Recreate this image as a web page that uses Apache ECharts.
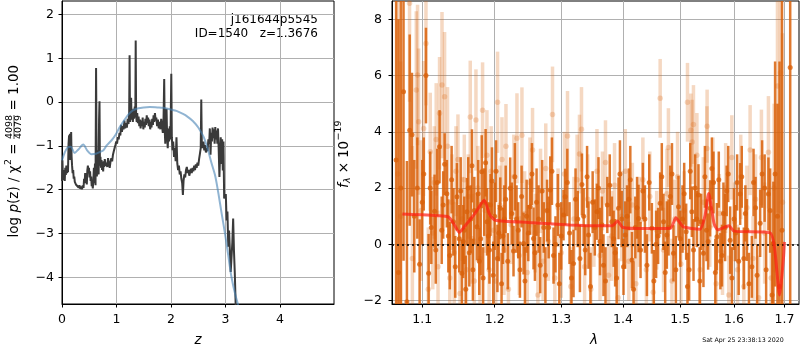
<!DOCTYPE html>
<html>
<head>
<meta charset="utf-8">
<script src="https://cdn.jsdelivr.net/npm/echarts@6/dist/echarts.min.js"></script>
<style>html,body{margin:0;padding:0;background:#fff}#main{width:800px;height:350px}</style>
</head>
<body>
<div id="main"></div>
<script>
// ---- left panel: log p(z) ----
const zTicks = [0, 1, 2, 3, 4];
const lnpTicks = [-4, -3, -2, -1, 0, 1, 2];
const zObs = [0.000,0.008,0.016,0.024,0.032,0.040,0.050,0.060,0.070,0.080,
  0.090,0.100,0.110,0.120,0.130,0.138,0.145,0.152,0.160,0.168,
  0.176,0.185,0.195,0.205,0.215,0.225,0.235,0.245,0.255,0.265,
  0.275,0.290,0.305,0.320,0.335,0.350,0.365,0.380,0.395,0.405,
  0.415,0.425,0.435,0.445,0.455,0.465,0.475,0.485,0.495,0.505,
  0.515,0.525,0.535,0.545,0.555,0.565,0.575,0.585,0.595,0.605,
  0.615,0.625,0.632,0.640,0.648,0.656,0.664,0.672,0.680,0.688,
  0.696,0.705,0.715,0.725,0.735,0.745,0.755,0.765,0.775,0.785,
  0.800,0.815,0.830,0.845,0.860,0.875,0.890,0.905,0.920,0.935,
  0.950,0.965,0.980,0.995,1.010,1.025,1.040,1.055,1.070,1.085,
  1.100,1.115,1.130,1.145,1.160,1.175,1.190,1.205,1.220,1.232,
  1.240,1.248,1.258,1.268,1.276,1.288,1.300,1.312,1.322,1.335,
  1.345,1.352,1.360,1.370,1.380,1.392,1.405,1.418,1.430,1.442,
  1.455,1.468,1.480,1.492,1.505,1.518,1.530,1.542,1.555,1.568,
  1.580,1.592,1.605,1.618,1.630,1.642,1.655,1.668,1.680,1.692,
  1.705,1.718,1.730,1.745,1.760,1.775,1.790,1.805,1.820,1.835,
  1.850,1.862,1.875,1.885,1.895,1.905,1.918,1.928,1.940,1.952,
  1.965,1.978,1.990,2.005,2.015,2.028,2.040,2.055,2.070,2.085,
  2.100,2.115,2.130,2.145,2.160,2.175,2.190,2.205,2.218,2.230,
  2.245,2.260,2.275,2.290,2.305,2.320,2.335,2.350,2.365,2.380,
  2.395,2.410,2.425,2.440,2.455,2.470,2.485,2.500,2.515,2.530,
  2.545,2.555,2.565,2.580,2.595,2.610,2.625,2.640,2.655,2.670,
  2.685,2.700,2.712,2.725,2.738,2.750,2.762,2.775,2.788,2.800,
  2.812,2.825,2.838,2.850,2.862,2.875,2.888,2.900,2.912,2.925,
  2.938,2.950,2.962,2.975,2.990,3.005,3.020,3.035,3.050,3.065,
  3.080,3.095,3.110,3.125,3.140,3.155,3.170,3.190];
const lnpObs = [-1.80,-1.33,-1.70,-1.55,-1.78,-1.62,-1.80,-1.50,-1.66,-1.45,
  -1.62,-1.52,-1.60,-0.95,-0.76,-1.10,-0.72,-1.32,-1.05,-0.68,
  -1.25,-1.45,-1.62,-1.55,-1.75,-1.70,-1.82,-1.78,-1.88,-1.84,
  -1.92,-1.88,-1.95,-1.90,-1.98,-1.93,-1.99,-1.90,-1.96,-1.75,
  -1.85,-1.62,-1.80,-1.70,-1.88,-1.55,-1.45,-1.62,-1.50,-1.72,
  -1.58,-1.80,-1.70,-1.92,-1.85,-1.97,-1.78,-1.50,-1.85,-1.40,
  -1.90,0.78,-0.60,-1.70,-1.20,-1.55,-1.10,-1.65,-0.40,0.02,
  -1.45,-1.25,-1.50,-1.32,-1.55,-1.40,-1.58,-1.35,-1.48,-1.30,
  -1.45,-1.38,-1.48,-1.28,-1.42,-1.50,-1.36,-1.28,-1.35,-1.20,
  -1.12,-1.05,-0.98,-0.90,-0.95,-0.80,-0.85,-0.70,-0.76,-0.52,
  -0.68,-0.55,-0.62,-0.42,-0.60,-0.48,-0.58,-0.38,-0.50,-0.25,
  1.07,-0.45,-0.30,0.10,-0.40,-0.22,-0.45,-0.15,-0.38,-0.10,
  -0.35,1.41,-0.30,-0.45,-0.25,-0.48,-0.33,-0.55,-0.40,-0.60,
  -0.42,-0.55,-0.35,-0.62,-0.45,-0.58,-0.38,-0.52,-0.30,-0.48,
  -0.35,-0.55,-0.40,-0.62,-0.45,-0.58,-0.38,-0.52,-0.30,-0.45,
  -0.25,-0.42,-0.35,-0.55,-0.40,-0.60,-0.45,-0.62,-0.38,-0.55,
  -0.70,-0.45,0.53,-0.65,-0.95,-0.55,-0.15,-0.75,-1.05,-0.60,
  -0.90,-0.55,-0.85,0.65,-0.80,-1.10,-0.90,-1.25,-1.05,-1.35,
  -0.80,-1.40,-1.55,-1.45,-1.65,-1.58,-1.75,-1.85,-2.12,-1.80,
  -1.65,-1.72,-1.55,-1.48,-1.62,-1.55,-1.68,-1.60,-1.52,-1.62,
  -1.50,-1.58,-1.45,-1.55,-1.42,-1.50,-1.38,-1.45,-1.30,-1.18,
  -1.05,0.06,-0.95,-1.05,-0.90,-1.10,-0.98,-1.15,-1.05,-1.12,
  -0.85,-0.95,-0.60,-1.20,-0.70,-0.90,-0.58,-0.82,-0.62,-0.95,
  -0.57,-0.85,-0.65,-0.95,-0.60,-1.10,-1.71,-1.20,-0.80,-1.41,
  -0.85,-1.56,-0.90,-2.20,-2.24,-2.10,-2.70,-2.50,-3.30,-2.93,
  -3.40,-3.88,-3.91,-3.20,-2.66,-3.40,-3.90,-4.80];
const zFit = [0.00,0.05,0.10,0.16,0.23,0.30,0.39,0.46,0.54,0.62,0.69,0.76,0.82,0.91,0.98,1.06,1.15,1.22,1.30,1.40,
  1.50,1.61,1.75,1.86,2.00,2.10,2.22,2.30,2.40,2.50,2.60,2.68,2.74,2.81,2.87,2.93,2.99,3.05,3.11,3.18,3.26];
const lnpFit = [-1.33,-1.15,-1.04,-1.02,-1.16,-1.08,-0.97,-1.10,-1.19,-1.18,-1.14,-1.10,-0.99,-0.87,-0.75,-0.57,-0.40,-0.28,-0.19,-0.14,
  -0.12,-0.11,-0.12,-0.13,-0.17,-0.20,-0.27,-0.33,-0.43,-0.58,-0.80,-1.10,-1.38,-1.68,-2.09,-2.55,-3.00,-3.50,-4.00,-4.40,-4.75];

// ---- right panel: spectrum ----
const lamTicks = [1.1, 1.2, 1.3, 1.4, 1.5, 1.6, 1.7];
const fluxTicks = [-2, 0, 2, 4, 6, 8];
const darkWave = [1.066,1.069,1.072,1.0755,1.0799,1.0835,1.0865,1.0895,1.0935,1.0965,
  1.100,1.102,1.1049,1.1084,1.112,1.1164,1.120,1.1231,1.126,1.130,
  1.133,1.137,1.142,1.1468,1.150,1.1537,1.157,1.1607,1.164,1.1677,
  1.171,1.1747,1.178,1.1815,1.185,1.189,1.1925,1.1961,1.200,1.204,
  1.2081,1.212,1.216,1.2226,1.2275,1.232,1.237,1.2424,1.247,1.2524,
  1.2574,1.262,1.2675,1.273,1.278,1.2829,1.288,1.2947,1.300,1.3035,
  1.3062,1.313,1.3193,1.326,1.3327,1.338,1.3433,1.350,1.3569,1.362,
  1.3677,1.374,1.3816,1.387,1.3926,1.398,1.4038,1.410,1.4153,1.421,
  1.4265,1.434,1.441,1.4496,1.457,1.4641,1.470,1.4759,1.482,1.4877,
  1.4967,1.504,1.5106,1.516,1.5209,1.527,1.5331,1.538,1.5423,1.548,
  1.5547,1.561,1.5674,1.574,1.5798,1.586,1.5926,1.600,1.606,1.6119,
  1.619,1.6249,1.6347,1.642,1.6511,1.660,1.6676,1.6776,1.681,1.6858,
  1.690,1.695,1.7118,
  // second set of bins, in between the first
  1.1105,1.118,1.128,1.135,1.1395,1.1445,1.152,1.1555,1.159,1.1625,
  1.166,1.169,1.1765,1.180,1.1835,1.187,1.191,1.194,1.198,1.202,
  1.206,1.210,1.214,1.219,1.225,1.2295,1.2345,1.2395,1.2445,1.2495,
  1.255,1.2595,1.265,1.2705,1.2755,1.2805,1.2855,1.291,1.297,1.3095,
  1.316,1.3225,1.3295,1.3355,1.341,1.3465,1.3535,1.3595,1.365,1.371,
  1.378,1.3845,1.3895,1.395,1.401,1.407,1.4125,1.418,1.424,1.430,
  1.4375,1.445,1.453,1.4605,1.467,1.473,1.479,1.485,1.492,1.500,
  1.507,1.513,1.518,1.524,1.530,1.5355,1.545,1.551,1.558,1.5645,
  1.571,1.577,1.583,1.589,1.596,1.603,1.609,1.615,1.622,1.629,
  1.638,1.645,1.655,1.663,1.671,1.675];
const darkFlux = [3.0,-1.0,2.0,5.42,-2.04,4.06,3.9,1.0,2.0,-0.71,
  1.5,2.5,6.0,-1.03,0.6,1.18,2.2,3.47,0.5,2.85,
  1.8,-0.4,0.8,1.69,0.2,-1.03,0.5,1.16,-0.3,2.79,
  1.2,0.63,-0.6,2.58,1.5,0.8,-0.2,2.25,1.0,-0.5,
  1.28,0.3,1.6,1.99,-0.24,0.9,-0.9,0.03,1.0,1.34,
  0.21,1.5,-0.74,0.6,1.2,1.93,-0.4,1.4,0.3,1.04,
  1.69,0.4,-0.68,0.9,2.13,-0.2,0.33,1.5,1.16,0.1,
  -0.74,1.4,0.8,-0.3,1.28,0.9,0.33,1.6,-0.56,0.6,
  0.92,1.9,-0.74,0.57,0.0,1.46,0.8,0.33,1.7,-0.32,
  1.34,0.9,0.45,-0.9,1.16,2.0,1.75,0.8,-0.32,0.5,
  1.28,2.2,0.27,-0.6,1.1,1.9,0.15,0.9,2.2,1.79,
  -0.5,0.51,-0.8,1.3,0.75,2.0,1.79,0.03,2.5,1.0,
  -1.5,0.5,6.29,
  2.0,-0.2,1.4,0.3,2.3,-0.8,1.9,0.1,-1.6,2.0,
  0.9,-0.9,1.8,0.2,-1.2,2.9,0.3,1.4,-1.1,2.6,
  0.4,-1.4,0.9,-0.6,1.1,2.4,0.5,1.7,-1.3,0.4,
  2.5,-0.3,0.9,1.9,-1.1,0.6,2.6,0.0,-1.4,2.2,
  -1.2,1.6,-0.5,1.0,2.4,-1.5,0.6,2.0,0.7,-1.3,
  2.1,0.2,-1.2,2.5,-0.8,1.0,2.3,-1.6,1.3,-0.2,
  0.9,2.2,-1.3,0.3,2.4,-1.0,0.6,2.5,-0.9,0.2,
  1.8,-1.5,2.6,-0.2,0.9,-1.3,2.4,0.1,2.7,-1.0,
  2.3,-0.4,0.6,2.5,-1.2,0.4,-0.6,2.4,1.1,-1.4,
  2.2,-1.1,2.5,-0.9,1.2,-1.8];
const darkErr = [9,9,8,6,5,3.4,2.2,2.0,1.8,1.6,
  1.5,1.3,1.7,1.4,1.3,1.3,1.2,1.3,1.2,1.1,
  1.2,1.2,1.2,1.2,1.2,1.2,1.2,1.2,1.2,1.3,
  1.2,1.2,1.2,1.3,1.2,1.2,1.2,1.2,1.2,1.2,
  1.1,1.0,1.2,1.1,0.9,1.2,1.0,1.1,1.3,1.0,
  1.1,1.2,1.0,0.9,1.1,1.2,1.0,1.1,1.2,0.9,
  1.0,1.1,1.2,1.0,1.1,0.9,1.2,1.1,1.0,1.2,
  1.1,1.0,0.9,1.2,1.1,1.0,1.2,1.1,1.0,1.1,
  1.2,1.0,1.1,0.9,1.2,1.1,1.0,1.2,1.1,1.0,
  1.1,1.2,1.0,1.1,0.9,1.2,1.1,1.0,1.2,1.1,
  1.0,1.1,1.2,1.0,1.1,0.9,1.2,1.1,1.0,1.1,
  1.1,1.1,1.1,1.1,1.2,1.2,1.3,2.2,4.0,4.0,
  8,9,10,
  1.3,1.2,1.2,1.3,1.2,1.1,1.2,1.3,1.2,1.1,
  1.2,1.1,1.2,1.3,1.1,1.2,1.2,1.1,1.2,1.1,
  1.0,1.1,1.2,1.0,1.1,1.2,1.0,1.1,1.2,1.0,
  1.1,1.0,1.2,1.1,1.0,1.1,1.2,1.0,1.1,1.2,
  1.0,1.1,1.2,1.0,1.1,1.2,1.0,1.1,1.0,1.2,
  1.1,1.0,1.1,1.2,1.0,1.1,1.2,1.0,1.1,1.0,
  1.2,1.0,1.1,1.0,1.2,1.1,1.0,1.1,1.2,1.0,
  1.1,1.2,1.0,1.1,1.0,1.2,1.1,1.0,1.1,1.2,
  1.0,1.1,1.2,1.0,1.1,1.0,1.2,1.1,1.0,1.1,
  1.2,1.1,1.2,1.3,1.5,1.9];
const lightWave = [1.068,1.072,1.0833,1.087,1.0921,1.0938,1.0952,1.0985,1.1018,1.1049,
  1.108,1.1106,1.114,1.116,1.1186,1.121,1.1231,1.1264,1.1299,1.1339,
  1.137,1.140,1.143,1.1455,1.1482,1.151,1.154,1.157,1.160,1.1625,
  1.1653,1.168,1.171,1.1733,1.176,1.179,1.1827,1.186,1.1889,1.192,
  1.195,1.1985,1.2015,1.2042,1.2075,1.2106,1.2135,1.2164,1.220,1.224,
  1.228,1.2326,1.236,1.240,1.244,1.248,1.252,1.2559,1.260,1.264,
  1.268,1.272,1.276,1.280,1.2864,1.290,1.295,1.300,1.305,1.3098,
  1.315,1.320,1.325,1.3288,1.332,1.337,1.342,1.347,1.352,1.357,
  1.362,1.366,1.371,1.376,1.381,1.386,1.392,1.398,1.404,1.410,
  1.416,1.422,1.428,1.434,1.440,1.446,1.452,1.458,1.4641,1.470,
  1.476,1.4787,1.485,1.490,1.495,1.501,1.507,1.513,1.5191,1.5215,
  1.5239,1.5302,1.536,1.542,1.5487,1.5491,1.554,1.560,1.566,1.572,
  1.578,1.584,1.590,1.5958,1.601,1.607,1.613,1.619,1.625,1.6313,
  1.637,1.642,1.648,1.6536,1.660,1.6676,1.673,1.679,1.6858,1.6919,
  1.696];
const lightFlux = [2.5,1.0,8.57,-0.5,5.49,6.02,4.36,1.2,4.12,7.14,
  -1.6,3.29,0.4,2.2,3.73,-0.8,4.66,5.66,5.25,3.49,
  -1.2,1.5,-0.3,2.6,3.02,-1.75,0.9,2.3,-0.9,1.7,
  4.53,0.2,-1.3,4.42,2.0,-0.5,4.77,1.2,3.17,-0.9,
  2.6,0.5,-1.3,5.05,1.4,3.02,-0.2,3.49,-1.6,0.7,
  2.4,3.77,-0.4,3.88,1.1,-1.0,2.2,3.35,0.4,-1.8,
  1.9,-0.6,2.7,0.1,4.62,-1.2,1.3,-0.3,2.5,3.85,
  -1.5,0.9,2.3,3.21,4.09,-0.8,1.6,-1.6,0.6,2.6,
  -0.4,1.9,2.91,-1.1,0.3,2.1,-1.9,1.0,2.6,-0.6,
  1.4,-1.4,0.8,2.3,-0.9,1.7,-1.7,0.5,5.19,-0.2,
  1.8,3.44,-1.3,0.9,2.4,-0.7,1.2,5.05,4.06,3.64,
  4.26,3.17,-0.9,1.5,3.41,4.2,0.6,2.2,-1.4,1.1,
  -0.3,2.0,-1.8,3.09,0.8,-0.9,2.4,-1.5,1.3,3.35,
  -0.5,1.6,-1.9,3.09,0.4,3.27,-1.2,2.0,5.63,6.1,
  1.5];
const lightErr = [6.5,5.5,3.5,4.0,2.8,2.5,2.6,2.5,2.4,2.2,
  2.2,2.1,2.0,2.0,2.0,2.0,2.0,2.6,2.3,2.1,
  1.9,1.7,1.8,1.6,1.6,1.7,1.5,1.6,1.7,1.5,
  2.0,1.6,1.5,1.8,1.5,1.6,1.7,1.5,1.6,1.5,
  1.6,1.5,1.6,1.8,1.4,1.5,1.6,1.5,1.6,1.4,
  1.5,1.6,1.4,1.7,1.5,1.4,1.6,1.5,1.4,1.6,
  1.5,1.4,1.6,1.4,1.7,1.5,1.4,1.6,1.5,1.6,
  1.4,1.5,1.6,1.4,1.5,1.4,1.6,1.5,1.4,1.5,
  1.6,1.4,1.5,1.4,1.6,1.5,1.4,1.6,1.5,1.4,
  1.5,1.4,1.6,1.5,1.4,1.6,1.5,1.4,1.4,1.5,
  1.6,1.4,1.5,1.4,1.6,1.5,1.4,1.4,1.3,1.5,
  1.4,1.5,1.4,1.6,1.5,1.3,1.4,1.6,1.5,1.4,
  1.5,1.6,1.4,1.5,1.4,1.6,1.5,1.4,1.5,1.6,
  1.5,1.6,1.5,1.7,1.8,2.0,2.4,3.0,4.5,5.0,
  6.0];
const modelWave = [1.074,1.10,1.12,1.135,1.142,1.150,1.160,1.172,1.185,1.193,
  1.201,1.25,1.314,1.36,1.382,1.391,1.40,1.44,1.482,1.492,
  1.505,1.536,1.545,1.552,1.562,1.569,1.59,1.60,1.671,1.68,
  1.69,1.698,1.70];
const modelFlux = [1.08,1.05,1.02,0.98,0.75,0.43,0.72,1.10,1.57,1.05,
  0.86,0.78,0.69,0.66,0.66,0.83,0.60,0.56,0.57,0.95,
  0.63,0.54,1.00,1.81,0.75,0.51,0.66,0.47,0.41,-0.14,
  -1.80,-0.50,0.09];

const FONT = 'DejaVu Sans';
const ORANGE = '217,98,11';
const chart = echarts.init(document.getElementById('main'));

const pair = (xs, ys) => xs.map((x, i) => [x, ys[i]]);
const logPts = (ws, fs, es) => ws.map((w, i) => es ? [Math.log(w), fs[i], es[i]] : [Math.log(w), fs[i]]);
const minus = v => String(v).replace('-', '\u2212');

function barRenderer(color, width) {
  return function (params, api) {
    const x = api.value(0), y = api.value(1), e = api.value(2);
    const lo = api.coord([x, y - e]);
    const hi = api.coord([x, y + e]);
    return {
      type: 'line',
      shape: { x1: lo[0], y1: lo[1], x2: hi[0], y2: hi[1] },
      style: { stroke: color, lineWidth: width }
    };
  };
}

function axis(opt, ticks, fmt, margin) {
  return Object.assign({
    type: 'value',
    axisLine: { show: true, onZero: false, lineStyle: { color: '#000', width: 1 } },
    axisTick: { show: true, inside: false, length: 3.5, customValues: ticks, lineStyle: { color: '#000' } },
    axisLabel: { customValues: ticks, formatter: fmt, margin: margin, color: '#000', fontSize: 12.5, fontFamily: FONT },
    splitLine: { show: true, lineStyle: { color: '#b0b0b0', width: 1 } }
  }, opt);
}

const txt = (x, y, text, size, extra) => ({
  type: 'text', x: x, y: y, silent: true,
  style: Object.assign({ text: text, fontSize: size, fontFamily: FONT, fill: '#000', align: 'left', verticalAlign: 'middle' }, extra || {})
});

const option = {
  animation: false,
  textStyle: { fontFamily: FONT },
  grid: [
    { left: 62, top: 1, width: 272, height: 303, show: true, borderColor: '#000', borderWidth: 1 },
    { left: 392, top: 1, width: 407, height: 303, show: true, borderColor: '#000', borderWidth: 1 }
  ],
  xAxis: [
    axis({ gridIndex: 0, min: 0, max: 4.99 }, zTicks, v => minus(v), 9),
    axis({ gridIndex: 1, min: Math.log(1.0607), max: Math.log(1.73) }, lamTicks.map(Math.log), v => Math.exp(v).toFixed(1), 9)
  ],
  yAxis: [
    axis({ gridIndex: 0, min: -4.61, max: 2.31 }, lnpTicks, v => minus(v), 8),
    axis({ gridIndex: 1, min: -2.12, max: 8.65 }, fluxTicks, v => minus(v), 10)
  ],
  series: [
    {
      type: 'line', xAxisIndex: 0, yAxisIndex: 0, data: pair(zObs, lnpObs),
      showSymbol: false, lineStyle: { color: '#3a3a3a', width: 2 }, z: 2
    },
    {
      type: 'line', xAxisIndex: 0, yAxisIndex: 0, data: pair(zFit, lnpFit), smooth: 0.3,
      showSymbol: false, lineStyle: { color: 'rgba(70,130,180,0.6)', width: 2 }, z: 3
    },
    {
      type: 'custom', xAxisIndex: 1, yAxisIndex: 1, clip: true, silent: true,
      data: logPts(lightWave, lightFlux, lightErr), encode: { x: 0, y: 1 },
      renderItem: barRenderer('rgba(' + ORANGE + ',0.25)', 3.5), z: 2
    },
    {
      type: 'scatter', xAxisIndex: 1, yAxisIndex: 1, silent: true,
      data: logPts(lightWave, lightFlux), symbolSize: 5.5,
      itemStyle: { color: 'rgba(' + ORANGE + ',0.3)' }, z: 3
    },
    {
      type: 'custom', xAxisIndex: 1, yAxisIndex: 1, clip: true, silent: true,
      data: logPts(darkWave, darkFlux, darkErr), encode: { x: 0, y: 1 },
      renderItem: barRenderer('rgba(' + ORANGE + ',0.85)', 2.5), z: 4
    },
    {
      type: 'scatter', xAxisIndex: 1, yAxisIndex: 1, silent: true,
      data: logPts(darkWave, darkFlux), symbolSize: 5,
      itemStyle: { color: 'rgb(' + ORANGE + ')' }, z: 5
    },
    {
      type: 'line', xAxisIndex: 1, yAxisIndex: 1, data: logPts(modelWave, modelFlux), smooth: 0.2,
      showSymbol: false, lineStyle: { color: 'rgba(255,30,20,0.7)', width: 3 }, z: 6,
      markLine: {
        silent: true, symbol: ['none', 'none'], label: { show: false },
        lineStyle: { color: '#000', type: [2, 3], width: 1.5 },
        data: [{ yAxis: 0 }]
      }
    }
  ],
  graphic: [
    txt(318, 20, 'j161644p5545', 12, { align: 'right' }),
    txt(318, 34, 'ID=1540   z=1.3676', 12, { align: 'right' }),
    txt(198, 340, 'z', 13.5, { align: 'center', fontStyle: 'italic' }),
    txt(594, 340, '\u03bb', 13.5, { align: 'center', fontStyle: 'italic' }),
    txt(743, 340, 'Sat Apr 25 23:38:13 2020', 6.3, { align: 'center' }),
    {
      type: 'group', x: 14, y: 152, rotation: Math.PI / 2,
      children: [
        txt(-13.4, 0, 'log {i|p}(z) / \u03c7', 13.5, {
          align: 'right',
          rich: { i: { fontStyle: 'italic', fontSize: 13.5, fontFamily: FONT } }
        }),
        txt(-13, -5, '2', 9.5),
        txt(2.8, 0, '=', 13.5, { align: 'center' }),
        txt(25, -4.5, '4098', 9.5, { align: 'center' }),
        { type: 'line', silent: true, shape: { x1: 13, y1: 0, x2: 37, y2: 0 }, style: { stroke: '#000', lineWidth: 0.7 } },
        txt(25, 4.5, '4079', 9.5, { align: 'center' }),
        txt(41.5, 0, '= 1.00', 13.5)
      ]
    },
    {
      type: 'group', x: 344, y: 154, rotation: Math.PI / 2,
      children: [
        txt(-34, 0, 'f', 13.5, { fontStyle: 'italic' }),
        txt(-29, 3.5, '\u03bb', 9.5, { fontStyle: 'italic' }),
        txt(-13.7, 0, '\u00d7', 13.5, { align: 'center' }),
        txt(-4.1, 0, '10', 13.5),
        txt(13.4, -5, '\u221219', 9.5)
      ]
    }
  ]
};

chart.setOption(option);
</script>
</body>
</html>
